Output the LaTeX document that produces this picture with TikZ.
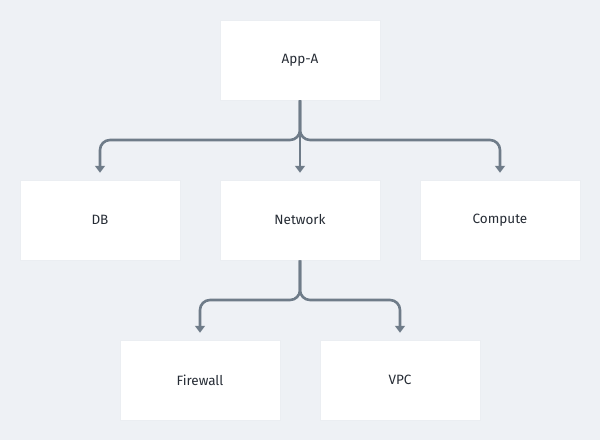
\documentclass[tikz,border=0pt]{standalone}
\usepackage{fontspec}
\setmainfont{Fira Sans}
\usetikzlibrary{arrows.meta}
\definecolor{bg}{HTML}{EEF1F5}
\definecolor{edge}{HTML}{6F7C89}
\definecolor{txt}{HTML}{262C35}
\definecolor{bord}{HTML}{EBEEF2}
\begin{document}
\begin{tikzpicture}[x=1pt,y=-1pt,
  box/.style={draw=bord, line width=0.5pt, fill=white, minimum width=160pt, minimum height=80pt, inner sep=0pt, text=txt, font=\fontsize{13.5}{16}\selectfont},
  conn/.style={draw=edge, line width=2.6pt, rounded corners=10pt, -{Triangle[width=10pt,length=7pt]}, shorten >=7pt}]
\fill[bg] (0,0) rectangle (600,440);
\useasboundingbox (0,0) rectangle (600,440);
\node[box] (app) at (300,60) {App-A};
\node[box] (db) at (100,220) {DB};
\node[box] (net) at (300,220) {Network};
\node[box] (comp) at (500,220) {Compute};
\node[box] (fw) at (200,380) {Firewall};
\node[box] (vpc) at (400,380) {VPC};
\coordinate (j1) at (300,140);
\coordinate (j2) at (300,300);
\draw[conn] (app.south) -- (j1) -| (db.north);
\draw[conn] (app.south) -- (j1) -| (comp.north);
\draw[conn] (app.south) -- (net.north);
\draw[conn] (net.south) -- (j2) -| (fw.north);
\draw[conn] (net.south) -- (j2) -| (vpc.north);
\end{tikzpicture}
\end{document}
